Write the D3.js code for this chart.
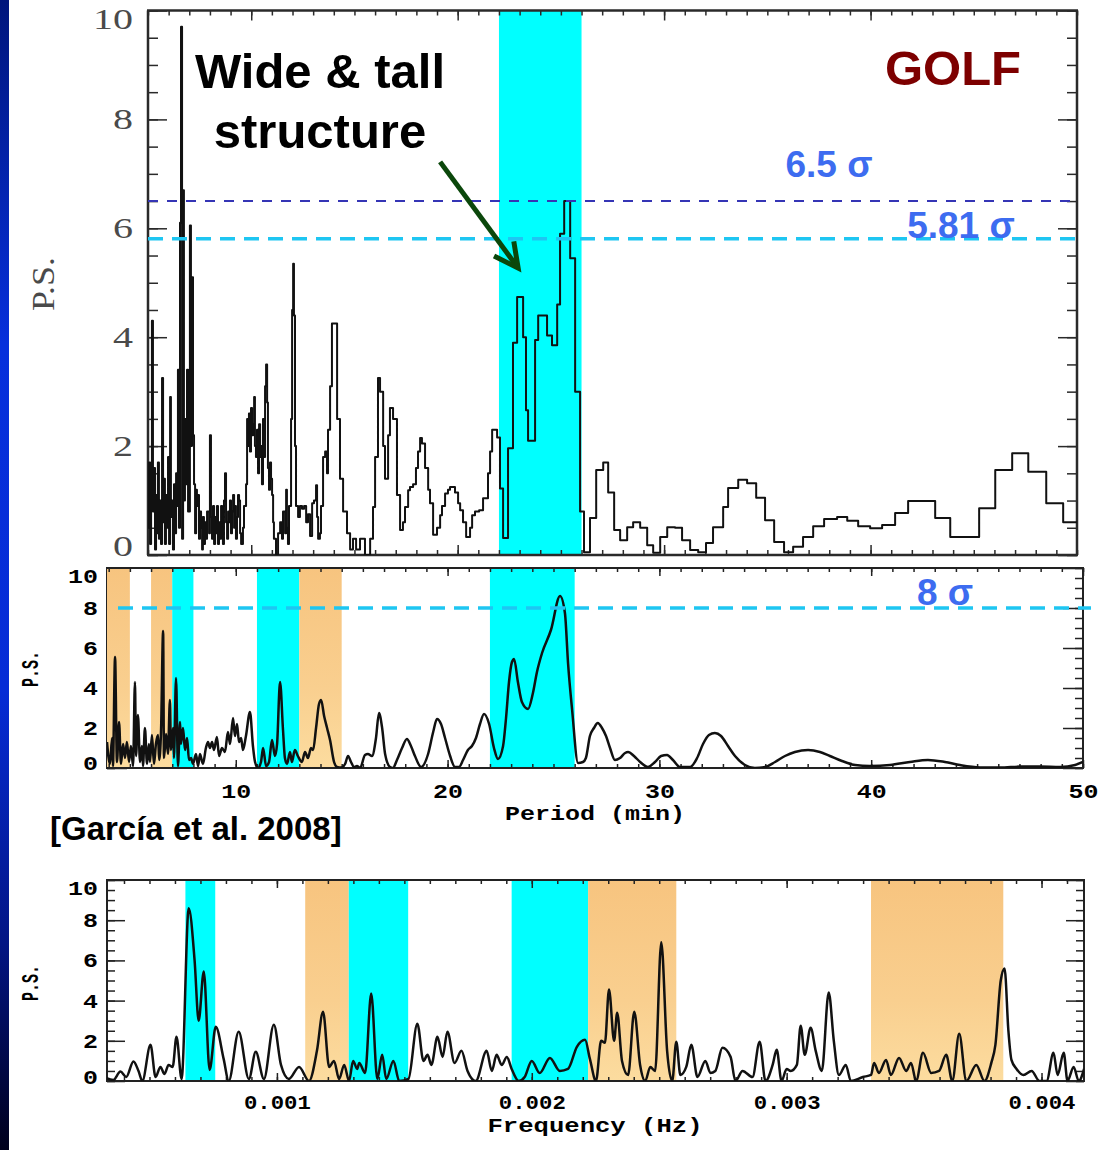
<!DOCTYPE html>
<html>
<head>
<meta charset="utf-8">
<script src="https://cdn.jsdelivr.net/npm/d3@7"></script>
<style>
  body { margin: 0; background: #ffffff; }
  svg { display: block; }
</style>
</head>
<body>
<svg id="fig" width="1100" height="1150"></svg>
<script>
// ---------------- data ----------------
// GOLF power spectrum (binned, step histogram): [period (min), P.S.] — value holds until next period
const golfHistogram = [
  [5.00,0.5],[5.05,1.7],[5.10,0.2],[5.15,1.2],[5.19,4.3],[5.24,0.8],[5.29,1.6],[5.34,0.1],[5.39,1.1],[5.44,0.4],
  [5.48,1.7],[5.53,0.3],[5.58,1.0],[5.63,0.2],[5.68,3.25],[5.73,0.6],[5.78,1.4],[5.82,0.2],[5.87,1.1],[5.92,0.5],
  [5.97,1.8],[6.02,0.2],[6.07,2.9],[6.11,0.7],[6.16,1.0],[6.21,0.1],[6.26,1.3],[6.31,0.4],[6.36,1.5],[6.41,0.9],
  [6.45,3.4],[6.50,0.5],[6.55,6.1],[6.60,9.7],[6.65,0.3],[6.70,6.7],[6.74,1.0],[6.79,2.5],[6.84,1.3],[6.89,3.4],
  [6.94,0.8],[7.03,6.05],[7.08,2.0],[7.13,5.1],[7.18,2.2],[7.23,1.3],[7.28,0.4],[7.33,1.2],[7.37,0.9],[7.42,1.1],
  [7.47,0.3],[7.52,0.8],[7.57,0.5],[7.62,0.1],[7.66,0.7],[7.71,0.2],[7.76,0.6],[7.81,0.3],[7.86,0.8],[7.96,0.4],
  [8.00,2.2],[8.05,0.7],[8.10,0.3],[8.15,0.9],[8.20,0.2],[8.25,0.7],[8.29,0.4],[8.34,0.9],[8.39,0.2],[8.44,0.6],
  [8.49,0.3],[8.54,0.9],[8.59,0.5],[8.63,0.2],[8.68,1.0],[8.73,1.5],[8.78,0.6],[8.83,0.3],[8.88,0.8],[8.92,0.6],
  [8.97,1.0],[9.02,0.4],[9.07,0.8],[9.12,1.1],[9.17,0.5],[9.22,0.9],[9.26,0.3],[9.31,0.7],[9.36,1.1],[9.41,1.0],
  [9.46,0.4],[9.51,0.2],[9.60,0.5],[9.65,0.9],[9.75,1.3],[9.80,2.5],[9.85,2.0],[9.89,2.6],[9.94,1.9],[9.99,2.7],
  [10.04,2.2],[10.09,2.4],[10.14,2.9],[10.18,2.0],[10.23,1.8],[10.28,2.3],[10.33,1.5],[10.38,2.4],[10.43,1.8],[10.48,2.0],
  [10.52,1.3],[10.57,2.5],[10.62,1.8],[10.67,3.1],[10.72,3.5],[10.77,2.8],[10.81,1.6],[10.86,1.2],[10.91,1.7],[10.96,1.4],
  [11.01,1.1],[11.06,0.6],[11.10,0.3],[11.20,0.0],[11.30,0.4],[11.40,0.6],[11.49,0.3],[11.54,0.8],[11.64,0.4],[11.69,1.2],
  [11.73,0.5],[11.78,0.2],[11.83,0.9],[11.93,2.5],[11.98,4.5],[12.03,5.35],[12.07,4.4],[12.12,2.0],[12.17,0.9],[12.27,0.7],
  [12.36,0.9],[12.46,0.85],[12.56,0.9],[12.66,0.6],[12.75,0.75],[12.85,0.35],[12.95,0.95],[13.04,1.0],[13.14,1.28],[13.19,0.7],
  [13.24,0.3],[13.33,0.4],[13.38,0.9],[13.48,1.8],[13.58,1.9],[13.67,1.5],[13.72,2.3],[13.82,3.1],[13.91,4.25],[14.16,2.5],
  [14.30,1.4],[14.45,0.8],[14.64,0.4],[14.79,0.1],[14.93,0.3],[15.08,0.1],[15.27,0.3],[15.51,0.0],[15.76,0.3],[15.90,0.88],
  [16.00,1.8],[16.14,3.25],[16.24,3.0],[16.39,2.0],[16.48,1.4],[16.63,2.2],[16.72,2.7],[16.87,2.5],[17.06,1.1],[17.21,0.46],
  [17.35,0.6],[17.45,0.88],[17.60,1.19],[17.69,1.25],[17.84,1.3],[17.98,1.6],[18.08,1.9],[18.18,2.15],[18.27,2.05],[18.42,1.6],
  [18.57,1.2],[18.66,0.95],[18.81,0.37],[19.00,0.5],[19.15,0.73],[19.24,0.9],[19.39,1.13],[19.53,1.2],[19.63,1.25],[19.87,1.15],
  [20.02,0.95],[20.12,0.82],[20.26,0.6],[20.41,0.33],[20.60,0.5],[20.70,0.73],[20.84,0.8],[21.04,0.82],[21.23,1.04],[21.47,1.5],
  [21.57,1.9],[21.67,2.3],[21.91,2.16],[22.05,1.22],[22.20,0.31],[22.44,1.96],[22.68,3.9],[22.88,4.74],[23.17,4.0],[23.31,2.66],
  [23.41,2.1],[23.75,3.95],[23.90,4.4],[24.09,4.4],[24.33,4.03],[24.57,3.85],[24.82,4.6],[24.96,5.9],[25.16,6.5],[25.45,5.45],
  [25.69,3.0],[25.93,0.8],[26.12,0.05],[26.41,0.68],[26.71,1.56],[27.05,1.7],[27.29,1.15],[27.58,0.46],[27.87,0.27],[28.21,0.51],
  [28.50,0.6],[28.84,0.5],[29.18,0.18],[29.47,0.04],[29.81,0.33],[30.15,0.51],[30.53,0.5],[30.87,0.27],[31.26,0.09],[31.65,0.05],
  [32.03,0.22],[32.37,0.51],[32.86,0.88],[33.10,1.23],[33.59,1.38],[34.02,1.32],[34.46,1.05],[34.89,0.64],[35.33,0.24],[35.81,0.05],
  [36.25,0.15],[36.73,0.33],[37.22,0.53],[37.75,0.66],[38.38,0.7],[38.87,0.63],[39.40,0.53],[39.98,0.49],[40.56,0.55],[41.19,0.77],
  [41.82,0.99],[43.13,0.68],[43.86,0.33],[45.26,0.86],[46.04,1.56],[46.86,1.87],[47.64,1.53],[48.51,0.95],[49.33,0.6],[50.00,0.6]
];

// Combined spectrum versus period: [period (min), P.S.]
const periodSpectrum = [
  [3.92,1.3],[4.06,0.2],[4.16,1.5],[4.20,0.1],[4.30,5.55],[4.39,0.3],[4.49,2.3],[4.58,0.2],[4.68,1.2],[4.77,0.5],
  [4.86,1.3],[4.96,0.3],[5.05,1.1],[5.15,0.1],[5.24,4.3],[5.29,0.6],[5.38,2.65],[5.48,0.3],[5.57,1.1],[5.62,0.1],
  [5.71,2.0],[5.81,0.2],[5.90,1.2],[5.95,0.3],[6.04,1.65],[6.14,0.2],[6.23,1.2],[6.33,1.65],[6.38,0.4],[6.47,1.8],
  [6.57,6.85],[6.61,0.5],[6.71,1.7],[6.80,0.7],[6.89,3.4],[6.94,0.9],[7.04,2.0],[7.08,0.5],[7.18,4.5],[7.27,0.1],
  [7.37,2.3],[7.41,1.2],[7.51,2.0],[7.60,0.9],[7.70,1.5],[7.79,0.4],[7.89,0.5],[7.98,0.2],[8.12,0.7],[8.22,0.1],
  [8.31,0.7],[8.45,0.2],[8.59,1.0],[8.69,1.3],[8.78,1.0],[8.88,1.3],[8.97,0.9],[9.11,1.55],[9.21,0.6],[9.35,1.0],
  [9.49,0.8],[9.63,1.8],[9.73,1.2],[9.87,2.5],[9.96,1.6],[10.06,2.2],[10.15,1.3],[10.25,1.5],[10.34,0.9],[10.48,1.6],
  [10.67,2.8],[10.81,1.1],[10.91,0.3],[11.05,0.0],[11.19,0.3],[11.29,1.0],[11.43,0.1],[11.57,0.3],[11.71,1.4],[11.85,0.6],
  [11.95,1.2],[12.09,4.3],[12.23,1.9],[12.32,0.5],[12.42,0.2],[12.56,0.8],[12.65,0.3],[12.79,0.9],[12.93,0.6],[13.12,0.3],
  [13.27,0.8],[13.41,0.5],[13.55,1.0],[13.65,0.9],[13.79,2.0],[13.93,3.2],[14.03,3.4],[14.17,2.6],[14.31,2.0],[14.45,1.4],
  [14.64,0.3],[14.78,0.05],[14.97,0.02],[15.16,0.2],[15.30,0.6],[15.44,0.3],[15.58,0.05],[15.72,0.1],[15.87,0.0],[16.10,0.65],
  [16.24,0.7],[16.43,0.6],[16.62,1.5],[16.76,2.75],[16.91,2.0],[17.05,0.7],[17.28,0.05],[17.42,0.0],[17.61,0.4],[17.85,1.0],
  [18.08,1.45],[18.27,1.1],[18.46,0.6],[18.75,0.05],[19.08,0.7],[19.32,1.8],[19.50,2.45],[19.69,2.2],[19.88,1.5],[20.12,0.6],
  [20.35,0.05],[20.54,0.05],[20.73,0.4],[20.96,0.9],[21.15,1.1],[21.34,1.5],[21.53,2.2],[21.72,2.7],[21.96,2.2],[22.19,1.0],
  [22.38,0.45],[22.62,1.1],[22.76,2.5],[22.90,4.3],[23.04,5.3],[23.14,5.45],[23.32,4.3],[23.51,3.3],[23.80,2.95],[24.03,3.75],
  [24.22,4.8],[24.46,5.75],[24.88,6.9],[25.31,8.6],[25.54,7.75],[25.69,5.2],[25.88,2.9],[26.16,0.25],[26.39,0.3],[26.53,0.5],
  [26.72,1.6],[26.91,2.0],[27.09,2.25],[27.29,2.0],[27.48,1.6],[27.67,1.0],[27.90,0.4],[28.14,0.5],[28.38,0.75],[28.52,0.8],
  [28.80,0.6],[29.09,0.3],[29.46,0.05],[29.79,0.3],[30.08,0.6],[30.36,0.65],[30.64,0.4],[30.97,0.05],[31.45,0.05],[31.78,0.5],
  [32.06,1.2],[32.34,1.65],[32.62,1.75],[32.91,1.6],[33.24,1.1],[33.57,0.6],[34.04,0.15],[34.51,0.0],[34.99,0.05],[35.46,0.3],
  [35.93,0.6],[36.40,0.8],[37.02,0.9],[37.58,0.8],[38.05,0.6],[38.62,0.35],[39.24,0.15],[39.94,0.1],[40.89,0.15],[41.83,0.3],
  [42.68,0.4],[43.48,0.3],[44.19,0.15],[45.14,0.03],[46.08,0.02],[47.03,0.07],[47.97,0.08],[48.92,0.05],[49.63,0.15],[50.00,0.3]
];

// Spectrum versus frequency: [frequency (mHz), P.S.]
const freqSpectrum = [
  [0.327,0.17],[0.358,0.05],[0.386,0.47],[0.409,0.2],[0.437,0.97],[0.457,0.5],[0.472,0.0],[0.504,1.8],[0.524,0.2],[0.543,0.7],
  [0.559,0.35],[0.575,0.8],[0.591,0.7],[0.606,2.2],[0.626,0.1],[0.654,8.6],[0.677,6.0],[0.693,3.0],[0.713,5.45],[0.736,0.55],
  [0.760,2.7],[0.791,1.1],[0.811,0.0],[0.850,2.45],[0.890,0.1],[0.917,1.45],[0.949,0.1],[0.988,2.8],[1.016,0.8],[1.047,0.1],
  [1.087,0.7],[1.126,0.0],[1.157,1.5],[1.181,3.45],[1.205,0.7],[1.224,1.0],[1.244,0.1],[1.264,0.8],[1.283,0.0],[1.299,1.0],
  [1.315,0.6],[1.323,0.9],[1.346,0.4],[1.370,4.35],[1.394,0.1],[1.413,1.3],[1.429,0.1],[1.457,1.0],[1.480,0.0],[1.516,0.1],
  [1.551,2.85],[1.575,1.0],[1.591,1.3],[1.606,0.8],[1.630,2.2],[1.650,1.2],[1.669,2.45],[1.697,0.9],[1.724,1.5],[1.748,0.5],
  [1.780,0.0],[1.823,1.5],[1.843,0.5],[1.862,1.3],[1.882,0.8],[1.902,1.2],[1.921,0.6],[1.949,0.0],[1.972,0.2],[2.000,1.0],
  [2.031,0.4],[2.071,1.15],[2.110,0.5],[2.142,0.6],[2.177,1.7],[2.209,2.05],[2.228,1.1],[2.252,0.0],[2.272,2.0],[2.287,1.9],
  [2.303,4.55],[2.323,2.0],[2.335,3.4],[2.354,1.0],[2.378,0.3],[2.402,3.45],[2.425,0.8],[2.445,0.0],[2.465,0.7],[2.484,0.5],
  [2.508,6.9],[2.531,1.5],[2.551,0.0],[2.567,1.95],[2.583,0.3],[2.606,0.7],[2.626,1.8],[2.650,0.2],[2.681,1.0],[2.701,0.4],
  [2.720,0.5],[2.748,1.65],[2.780,1.2],[2.799,0.0],[2.827,0.5],[2.866,0.2],[2.894,1.95],[2.917,0.0],[2.945,0.8],[2.961,1.55],
  [2.980,0.0],[3.000,0.6],[3.016,0.5],[3.040,0.8],[3.055,2.75],[3.071,1.3],[3.094,2.65],[3.114,1.5],[3.138,0.5],[3.165,4.4],
  [3.185,2.0],[3.205,0.3],[3.232,0.8],[3.252,0.0],[3.299,0.2],[3.331,0.3],[3.343,0.9],[3.362,0.4],[3.390,1.05],[3.409,0.3],
  [3.441,1.15],[3.469,0.5],[3.488,0.9],[3.508,0.0],[3.535,1.4],[3.567,0.4],[3.598,0.5],[3.626,1.3],[3.650,0.0],[3.677,2.35],
  [3.705,0.0],[3.744,0.8],[3.776,0.0],[3.803,0.9],[3.819,1.8],[3.840,5.0],[3.855,5.6],[3.870,2.5],[3.882,1.05],[3.902,0.6],
  [3.929,0.3],[3.961,0.5],[3.992,0.0],[4.020,0.0],[4.047,1.4],[4.063,0.3],[4.087,1.4],[4.102,0.0],[4.126,0.7],[4.146,0.0],
  [4.167,0.6]
];

// Highlighted ranges
const golfBands   = [{ from: 22, to: 26, kind: "cyan" }];                       // period (min)
const periodBands = [
  { from: 3.92, to: 5,  kind: "orange" }, { from: 6,  to: 7,  kind: "orange" },
  { from: 7,    to: 8,  kind: "cyan" },   { from: 11, to: 13, kind: "cyan" },
  { from: 13,   to: 15, kind: "orange" }, { from: 22, to: 26, kind: "cyan" }
];                                                                                // period (min)
const freqBands = [
  { from: 0.641, to: 0.758, kind: "cyan" },   { from: 1.111, to: 1.282, kind: "orange" },
  { from: 1.282, to: 1.515, kind: "cyan" },   { from: 1.921, to: 2.221, kind: "cyan" },
  { from: 2.221, to: 2.567, kind: "orange" }, { from: 3.331, to: 3.850, kind: "orange" }
];                                                                                // frequency (mHz)

// Confidence levels
const golfLevels   = [{ value: 6.5, label: "6.5 σ", kind: "dark" }, { value: 5.81, label: "5.81 σ", kind: "light" }];
const periodLevels = [{ value: 8, label: "8 σ", kind: "light" }];

// Tick values
const psTicks     = [0, 2, 4, 6, 8, 10];
const periodTicks = [10, 20, 30, 40, 50];
const freqTicks   = [0.001, 0.002, 0.003, 0.004];

// ---------------- drawing ----------------
const W = 1100, H = 1150;
const svg = d3.select("#fig");
const defs = svg.append("defs");

// slide edge strip
const strip = defs.append("linearGradient").attr("id", "edgeStrip")
  .attr("x1", 0).attr("y1", 0).attr("x2", 0).attr("y2", 1);
[[0, "#00167c"], [0.3, "#0730dc"], [0.6, "#062cd6"], [0.82, "#031584"], [1, "#00001c"]]
  .forEach(([o, c]) => strip.append("stop").attr("offset", o).attr("stop-color", c));
svg.append("rect").attr("x", 0).attr("y", 0).attr("width", 9).attr("height", H).attr("fill", "url(#edgeStrip)");

// orange band fill
const og = defs.append("linearGradient").attr("id", "orangeFill")
  .attr("x1", 0).attr("y1", 0).attr("x2", 0).attr("y2", 1);
[[0, "#f7c47f"], [0.6, "#f9cf8f"], [1, "#fcdc9f"]]
  .forEach(([o, c]) => og.append("stop").attr("offset", o).attr("stop-color", c));
const bandFill = { cyan: "#00ffff", orange: "url(#orangeFill)" };
const levelStyle = {
  dark:  { stroke: "#3535b5", width: 2,   dash: "10,9" },
  light: { stroke: "#1ec6f2", width: 3.5, dash: "15,9" }
};

function styleTicks(sel, color, width) {
  sel.select(".domain").remove();
  sel.selectAll(".tick line").attr("stroke", color).attr("stroke-width", width);
}

// wide lettering: stretch each label to a fixed advance per character
function widen(sel, perChar) {
  sel.attr("lengthAdjust", "spacingAndGlyphs")
    .attr("textLength", function () { return this.textContent.length * perChar; });
}

function drawPanel(cfg) {
  const { id, x, y } = cfg;
  const [x0, x1] = x.range();
  const [yb, yt] = y.range();
  const g = svg.append("g");
  defs.append("clipPath").attr("id", id + "Clip")
    .append("rect").attr("x", x0).attr("y", yt).attr("width", x1 - x0).attr("height", yb - yt);

  const labelStyle = sel => sel.attr("font-family", cfg.labelFont).attr("font-weight", cfg.labelWeight)
    .attr("fill", cfg.labelColor);

  // left axis (may be covered by bands)
  const left = g.append("g").attr("transform", `translate(${x0},0)`);
  left.append("g").call(d3.axisLeft(y).tickValues(cfg.yMinor).tickSizeInner(-cfg.yTick[1]).tickSizeOuter(0).tickFormat(""))
    .call(styleTicks, cfg.axisColor, 1.5);
  const yl = left.append("g").call(d3.axisLeft(y).tickValues(psTicks).tickSizeInner(-cfg.yTick[0]).tickSizeOuter(0)
      .tickPadding(cfg.yPad).tickFormat(d3.format("d")))
    .call(styleTicks, cfg.axisColor, 1.5);
  yl.selectAll("text").call(labelStyle).attr("font-size", cfg.yLabelSize)
    .attr("dy", d => d === 10 ? cfg.edgeShift[0] : d === 0 ? cfg.edgeShift[1] : "0.32em")
    .call(widen, cfg.charWidth);
  left.append("line").attr("x1", 0).attr("x2", 0).attr("y1", yt).attr("y2", yb)
    .attr("stroke", cfg.frameColor).attr("stroke-width", cfg.frameWidth);

  // highlighted bands
  g.append("g").attr("clip-path", `url(#${id}Clip)`).selectAll("rect").data(cfg.bands).join("rect")
    .attr("x", d => x(cfg.xv(d.from))).attr("width", d => x(cfg.xv(d.to)) - x(cfg.xv(d.from)))
    .attr("y", yt).attr("height", yb - yt).attr("fill", d => bandFill[d.kind]);

  // remaining axes
  g.append("g").attr("transform", `translate(${x1},0)`)
    .call(d3.axisRight(y).tickValues(cfg.yMinor).tickSizeInner(-cfg.yTick[1]).tickSizeOuter(0).tickFormat(""))
    .call(styleTicks, cfg.axisColor, 1.5);
  g.append("g").attr("transform", `translate(${x1},0)`)
    .call(d3.axisRight(y).tickValues(psTicks).tickSizeInner(-cfg.yTick[0]).tickSizeOuter(0).tickFormat(""))
    .call(styleTicks, cfg.axisColor, 1.5);
  [["top", yt, d3.axisTop], ["bottom", yb, d3.axisBottom]].forEach(([side, yy, ax]) => {
    g.append("g").attr("transform", `translate(0,${yy})`)
      .call(ax(x).tickValues(cfg.xMinor).tickSizeInner(-cfg.xTick[1]).tickSizeOuter(0).tickFormat(""))
      .call(styleTicks, cfg.axisColor, 1.5);
    const major = g.append("g").attr("transform", `translate(0,${yy})`)
      .call(ax(x).tickValues(cfg.xMajor).tickSizeInner(-cfg.xTick[0]).tickSizeOuter(0)
        .tickPadding(cfg.xPad).tickFormat(side === "bottom" && cfg.xFormat ? cfg.xFormat : ""))
      .call(styleTicks, cfg.axisColor, 1.5);
    major.selectAll("text").call(labelStyle).attr("font-size", cfg.xLabelSize)
      .call(widen, cfg.xCharWidth);
  });
  const fr = g.append("g").attr("stroke", cfg.frameColor).attr("stroke-width", cfg.frameWidth).attr("fill", "none");
  fr.append("line").attr("x1", x0 - 1).attr("x2", x1 + 1).attr("y1", yt).attr("y2", yt);
  fr.append("line").attr("x1", x0 - 1).attr("x2", x1 + 1).attr("y1", yb).attr("y2", yb);
  fr.append("line").attr("x1", x1).attr("x2", x1).attr("y1", yt).attr("y2", yb);

  // spectrum
  g.append("path").datum(cfg.data).attr("clip-path", `url(#${id}Clip)`)
    .attr("fill", "none").attr("stroke", "#111").attr("stroke-width", cfg.lineWidth)
    .attr("stroke-linejoin", "round")
    .attr("d", d3.line().curve(cfg.curve).x(d => x(cfg.xv(d[0]))).y(d => y(d[1])));

  // confidence levels
  g.append("g").selectAll("line").data(cfg.levels).join("line")
    .attr("x1", x0 + cfg.levelInset).attr("x2", x1 + cfg.levelOverhang)
    .attr("y1", d => y(d.value)).attr("y2", d => y(d.value))
    .attr("stroke", d => levelStyle[d.kind].stroke)
    .attr("stroke-width", d => levelStyle[d.kind].width)
    .attr("stroke-dasharray", d => levelStyle[d.kind].dash);

  // y title
  g.append("text").attr("transform", `translate(${cfg.yTitle[0]},${cfg.yTitle[1]}) rotate(-90)`)
    .attr("text-anchor", "middle").attr("dominant-baseline", "central")
    .call(labelStyle).attr("font-size", cfg.yTitleSize)
    .attr("textLength", cfg.yTitleLength).attr("lengthAdjust", "spacingAndGlyphs")
    .text("P.S.");
  return g;
}

const ident = v => v;
const sigmaFont = "'Liberation Sans', Arial, sans-serif";
const monoFont = "'Liberation Mono', 'Courier New', monospace";

// ---- top panel: GOLF ----
const xTop = d3.scaleLinear().domain([5, 50]).range([148, 1077]);
const yTop = d3.scaleLinear().domain([0, 10]).range([555, 10.5]);
const topG = drawPanel({
  id: "golf", x: xTop, y: yTop, data: golfHistogram, curve: d3.curveStepAfter, xv: ident,
  bands: golfBands, levels: golfLevels, levelOverhang: 0, levelInset: 0,
  yMinor: d3.range(0, 10.01, 0.5), yTick: [19, 10], yPad: 15,
  xMajor: [10, 20, 30, 40], xMinor: d3.range(5, 50.01, 1), xTick: [10, 5], xPad: 6, xFormat: null,
  labelFont: "'Liberation Serif', 'DejaVu Serif', serif", labelWeight: "normal", labelColor: "#4a4a4a",
  yLabelSize: 29, xLabelSize: 29, charWidth: 20, xCharWidth: 20, edgeShift: ["0.62em", "0em"],
  axisColor: "#2a2a2a", frameColor: "#2a2a2a", frameWidth: 2.5, lineWidth: 2,
  yTitle: [43, 284], yTitleSize: 31, yTitleLength: 54
});

// annotations
topG.append("text").attr("x", 953).attr("y", 85).attr("text-anchor", "middle")
  .attr("font-family", sigmaFont).attr("font-weight", "bold").attr("font-size", 49)
  .attr("fill", "#7d0000").text("GOLF");
topG.append("text").attr("font-family", sigmaFont).attr("font-weight", "bold").attr("font-size", 49)
  .attr("text-anchor", "middle").attr("fill", "#000")
  .selectAll("tspan").data(["Wide & tall", "structure"]).join("tspan")
  .attr("x", 320).attr("y", (d, i) => 88 + i * 60).text(d => d);
const levelText = [{ level: golfLevels[0], x: 829, y: 177 }, { level: golfLevels[1], x: 961, y: 238 }];
topG.append("g").selectAll("text").data(levelText).join("text")
  .attr("x", d => d.x).attr("y", d => d.y).attr("text-anchor", "middle")
  .attr("font-family", sigmaFont).attr("font-weight", "bold").attr("font-size", 37)
  .attr("fill", "#3d6cf0").text(d => d.level.label);

// arrow pointing at the broad structure (anchored in data coordinates)
const arrowTail = [19.15, 7.22], arrowTip = [22.93, 5.27];
{
  const tx = xTop(arrowTail[0]), ty = yTop(arrowTail[1]);
  const hx = xTop(arrowTip[0]), hy = yTop(arrowTip[1]);
  const ang = Math.atan2(ty - hy, tx - hx);
  const len = 27, spread = 27 * Math.PI / 180;
  const w1 = [hx + len * Math.cos(ang - spread), hy + len * Math.sin(ang - spread)];
  const w2 = [hx + len * Math.cos(ang + spread), hy + len * Math.sin(ang + spread)];
  topG.append("line").attr("x1", tx).attr("y1", ty).attr("x2", hx + 2 * Math.cos(ang)).attr("y2", hy + 2 * Math.sin(ang))
    .attr("stroke", "#0b470b").attr("stroke-width", 5);
  topG.append("path").attr("d", d3.line()([w1, [hx, hy], w2]))
    .attr("fill", "none").attr("stroke", "#0b470b").attr("stroke-width", 5)
    .attr("stroke-linejoin", "miter").attr("stroke-linecap", "butt");
}

// ---- middle panel: period ----
const xMid = d3.scaleLinear().domain([3.92, 50]).range([107, 1083]);
const yMid = d3.scaleLinear().domain([0, 10]).range([768, 568]);
const midG = drawPanel({
  id: "period", x: xMid, y: yMid, data: periodSpectrum, curve: d3.curveMonotoneX, xv: ident,
  bands: periodBands, levels: periodLevels, levelOverhang: 8, levelInset: 11,
  yMinor: d3.range(0, 10.01, 0.5), yTick: [20, 8], yPad: 9,
  xMajor: periodTicks, xMinor: d3.range(4, 50.01, 1), xTick: [8, 4], xPad: 16, xFormat: d3.format("d"),
  labelFont: monoFont, labelWeight: "bold", labelColor: "#000",
  yLabelSize: 20, xLabelSize: 20, charWidth: 15, xCharWidth: 15, edgeShift: ["0.72em", "0.05em"],
  axisColor: "#222", frameColor: "#222", frameWidth: 2, lineWidth: 2.5,
  yTitle: [31, 669], yTitleSize: 24, yTitleLength: 36
});
midG.append("text").attr("x", 595).attr("y", 820).attr("text-anchor", "middle")
  .attr("font-family", monoFont).attr("font-weight", "bold").attr("font-size", 21)
  .attr("textLength", 180).attr("lengthAdjust", "spacingAndGlyphs")
  .attr("fill", "#000").text("Period (min)");
midG.append("text").attr("x", 945).attr("y", 605).attr("text-anchor", "middle")
  .attr("font-family", sigmaFont).attr("font-weight", "bold").attr("font-size", 37)
  .attr("fill", "#3d6cf0").text(periodLevels[0].label);

svg.append("text").attr("x", 50).attr("y", 840)
  .attr("font-family", sigmaFont).attr("font-weight", "bold").attr("font-size", 33)
  .attr("fill", "#000").text("[García et al. 2008]");

// ---- bottom panel: frequency ----
const mHz = v => v / 1000;
const xBot = d3.scaleLinear().domain([1 / 3000, 1 / 240]).range([107, 1084]);
const yBot = d3.scaleLinear().domain([0, 10]).range([1081, 880]);
const botG = drawPanel({
  id: "freq", x: xBot, y: yBot, data: freqSpectrum, curve: d3.curveMonotoneX, xv: mHz,
  bands: freqBands, levels: [], levelOverhang: 0, levelInset: 0,
  yMinor: d3.range(0, 10.01, 0.5), yTick: [18, 8], yPad: 9,
  xMajor: freqTicks, xMinor: d3.range(4, 41.01, 1).map(v => v / 10000), xTick: [8, 4], xPad: 14, xFormat: d3.format(".3f"),
  labelFont: monoFont, labelWeight: "bold", labelColor: "#000",
  yLabelSize: 20, xLabelSize: 20, charWidth: 15, xCharWidth: 13.4, edgeShift: ["0.72em", "0.1em"],
  axisColor: "#222", frameColor: "#222", frameWidth: 2, lineWidth: 2.5,
  yTitle: [31, 983], yTitleSize: 24, yTitleLength: 36
});
botG.append("text").attr("x", 595).attr("y", 1132).attr("text-anchor", "middle")
  .attr("font-family", monoFont).attr("font-weight", "bold").attr("font-size", 21)
  .attr("textLength", 215).attr("lengthAdjust", "spacingAndGlyphs")
  .attr("fill", "#000").text("Frequency (Hz)");
</script>
</body>
</html>
